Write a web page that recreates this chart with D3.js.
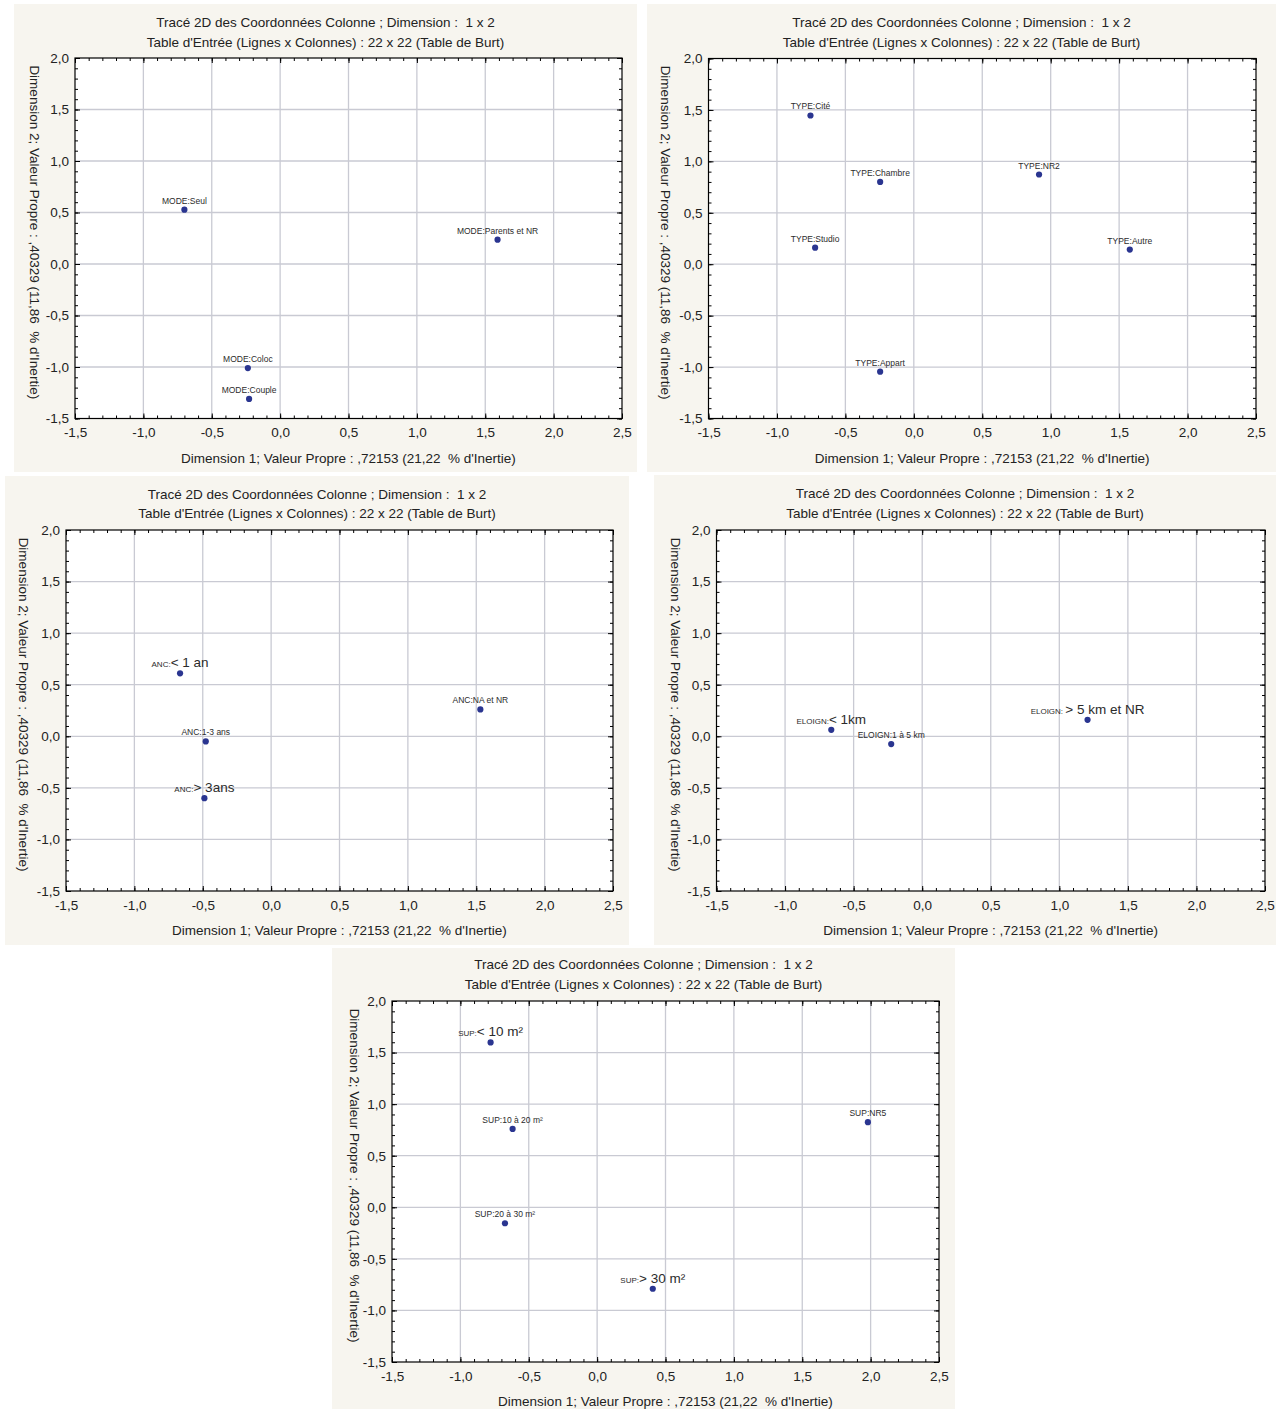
<!DOCTYPE html>
<html><head><meta charset="utf-8">
<script src="https://cdn.jsdelivr.net/npm/d3@7"></script>
<style>
body{margin:0;background:#fff}
svg{display:block}
text{font-family:"Liberation Sans",Arial,sans-serif}
</style>
</head><body>
<svg id="c" width="1276" height="1409"></svg>
<script>
// ---------- data ----------
const xTicks = [-1.5, -1.0, -0.5, 0.0, 0.5, 1.0, 1.5, 2.0, 2.5];
const yTicks = [-1.5, -1.0, -0.5, 0.0, 0.5, 1.0, 1.5, 2.0];
const titleLine1 = "Tracé 2D des Coordonnées Colonne ; Dimension :  1 x 2";
const titleLine2 = "Table d'Entrée (Lignes x Colonnes) : 22 x 22 (Table de Burt)";
const xAxisTitle = "Dimension 1; Valeur Propre : ,72153 (21,22  % d'Inertie)";
const yAxisTitle = "Dimension 2; Valeur Propre : ,40329 (11,86  % d'Inertie)";

const modeSmall = ["MODE:Seul", "MODE:Parents et NR", "MODE:Coloc", "MODE:Couple"];
const modeBig   = ["", "", "", ""];
const modeDim1  = [-0.70, 1.59, -0.236, -0.227];
const modeDim2  = [0.527, 0.236, -1.01, -1.31];

const typeSmall = ["TYPE:Cité", "TYPE:Chambre", "TYPE:NR2", "TYPE:Studio", "TYPE:Autre", "TYPE:Appart"];
const typeBig   = ["", "", "", "", "", ""];
const typeDim1  = [-0.755, -0.246, 0.915, -0.721, 1.578, -0.246];
const typeDim2  = [1.446, 0.80, 0.872, 0.161, 0.142, -1.045];

const ancSmall = ["ANC:", "ANC:NA et NR", "ANC:1-3 ans", "ANC:"];
const ancBig   = ["< 1 an", "", "", "> 3ans"];
const ancDim1  = [-0.666, 1.53, -0.478, -0.488];
const ancDim2  = [0.61, 0.26, -0.05, -0.60];

const eloSmall = ["ELOIGN:", "ELOIGN:1 à 5 km", "ELOIGN: "];
const eloBig   = ["< 1km", "", "> 5 km et NR"];
const eloDim1  = [-0.663, -0.226, 1.206];
const eloDim2  = [0.063, -0.076, 0.16];

const supSmall = ["SUP:", "SUP:10 à 20 m²", "SUP:NR5", "SUP:20 à 30 m²", "SUP:"];
const supBig   = ["< 10 m²", "", "", "", "> 30 m²"];
const supDim1  = [-0.779, -0.618, 1.98, -0.674, 0.407];
const supDim2  = [1.598, 0.76, 0.825, -0.155, -0.79];

// ---------- layout ----------
const panels = [
  {small: modeSmall, big: modeBig, d1: modeDim1, d2: modeDim2,
   bg: [14, 4, 637, 472], plot: [75, 58, 622, 418.5], t1: 22, t2: 42, xt: 458, yt: 35},
  {small: typeSmall, big: typeBig, d1: typeDim1, d2: typeDim2,
   bg: [647, 4, 1276, 472], plot: [708.5, 58.5, 1256, 418.5], t1: 22, t2: 42, xt: 458, yt: 666},
  {small: ancSmall, big: ancBig, d1: ancDim1, d2: ancDim2,
   bg: [5, 476, 629, 945], plot: [66, 530, 613, 891], t1: 494, t2: 513, xt: 930, yt: 24},
  {small: eloSmall, big: eloBig, d1: eloDim1, d2: eloDim2,
   bg: [654, 475, 1276, 945], plot: [716.5, 530, 1265, 891], t1: 493, t2: 513, xt: 930, yt: 676},
  {small: supSmall, big: supBig, d1: supDim1, d2: supDim2,
   bg: [332, 948, 955, 1409], plot: [392, 1001, 939, 1362], t1: 964, t2: 984, xt: 1401, yt: 355}
];

const svg = d3.select("#c");
const fmt = d => d3.format(".1f")(d).replace(".", ",").replace("\u2212", "-");
const minorX = d3.range(-15, 26).map(i => i / 10);
const minorY = d3.range(-15, 21).map(i => i / 10);

panels.forEach(p => {
  const g = svg.append("g");
  const [bx0, by0, bx1, by1] = p.bg;
  const [px0, py0, px1, py1] = p.plot;
  g.append("rect").attr("x", bx0).attr("y", by0).attr("width", bx1 - bx0).attr("height", by1 - by0)
    .attr("fill", "#f7f5ef");

  const x = d3.scaleLinear().domain([-1.5, 2.5]).range([px0, px1]);
  const y = d3.scaleLinear().domain([-1.5, 2.0]).range([py1, py0]);

  g.append("rect").attr("x", px0).attr("y", py0).attr("width", px1 - px0).attr("height", py1 - py0)
    .attr("fill", "#fff");

  // grid
  g.append("g").selectAll("line").data(xTicks.slice(1, -1)).join("line")
    .attr("x1", d => x(d)).attr("x2", d => x(d)).attr("y1", py0).attr("y2", py1)
    .attr("stroke", "#c9cad3").attr("stroke-width", 1.3);
  g.append("g").selectAll("line").data(yTicks.slice(1, -1)).join("line")
    .attr("y1", d => y(d)).attr("y2", d => y(d)).attr("x1", px0).attr("x2", px1)
    .attr("stroke", "#c9cad3").attr("stroke-width", 1.3);

  // axes
  const styleAxis = sel => {
    sel.select(".domain").remove();
    sel.selectAll("line").attr("stroke", "#000");
    sel.selectAll("text").attr("fill", "#222").style("font-size", "13.5px")
      .style("font-family", '"Liberation Sans",Arial,sans-serif');
  };
  g.append("g").attr("transform", `translate(0,${py1})`)
    .call(d3.axisBottom(x).tickValues(xTicks).tickSize(-5).tickSizeOuter(0).tickPadding(9).tickFormat(fmt)).call(styleAxis);
  g.append("g").attr("transform", `translate(0,${py1})`)
    .call(d3.axisBottom(x).tickValues(minorX).tickSize(-3).tickSizeOuter(0).tickFormat("")).call(styleAxis);
  g.append("g").attr("transform", `translate(0,${py0})`)
    .call(d3.axisTop(x).tickValues(xTicks).tickSize(-5).tickSizeOuter(0).tickFormat("")).call(styleAxis);
  g.append("g").attr("transform", `translate(0,${py0})`)
    .call(d3.axisTop(x).tickValues(minorX).tickSize(-3).tickSizeOuter(0).tickFormat("")).call(styleAxis);
  g.append("g").attr("transform", `translate(${px0},0)`)
    .call(d3.axisLeft(y).tickValues(yTicks).tickSize(-5).tickSizeOuter(0).tickPadding(6).tickFormat(fmt)).call(styleAxis);
  g.append("g").attr("transform", `translate(${px0},0)`)
    .call(d3.axisLeft(y).tickValues(minorY).tickSize(-3).tickSizeOuter(0).tickFormat("")).call(styleAxis);
  g.append("g").attr("transform", `translate(${px1},0)`)
    .call(d3.axisRight(y).tickValues(yTicks).tickSize(-5).tickSizeOuter(0).tickFormat("")).call(styleAxis);
  g.append("g").attr("transform", `translate(${px1},0)`)
    .call(d3.axisRight(y).tickValues(minorY).tickSize(-3).tickSizeOuter(0).tickFormat("")).call(styleAxis);

  // frame
  g.append("rect").attr("x", px0).attr("y", py0).attr("width", px1 - px0).attr("height", py1 - py0)
    .attr("fill", "none").attr("stroke", "#000").attr("stroke-width", 1.2);

  // titles
  const cxBg = (bx0 + bx1) / 2;
  const fs = "13.5px";
  g.append("text").attr("x", cxBg).attr("y", p.t1 + 5).attr("text-anchor", "middle")
    .style("font-size", fs).style("white-space", "pre").attr("fill", "#222").text(titleLine1);
  g.append("text").attr("x", cxBg).attr("y", p.t2 + 5).attr("text-anchor", "middle")
    .style("font-size", fs).style("white-space", "pre").attr("fill", "#222").text(titleLine2);
  g.append("text").attr("x", (px0 + px1) / 2).attr("y", p.xt + 5).attr("text-anchor", "middle")
    .style("font-size", fs).style("white-space", "pre").attr("fill", "#222").text(xAxisTitle);
  g.append("text").attr("transform", `translate(${p.yt - 5},${(py0 + py1) / 2 - 6}) rotate(90)`)
    .attr("text-anchor", "middle")
    .style("font-size", fs).style("white-space", "pre").attr("fill", "#222").text(yAxisTitle);

  // points
  const idx = d3.range(p.small.length);
  g.append("g").selectAll("circle").data(idx).join("circle")
    .attr("cx", i => x(p.d1[i])).attr("cy", i => y(p.d2[i])).attr("r", 3.1)
    .attr("fill", "#2a3590");

  // labels
  const lab = g.append("g").selectAll("text").data(idx).join("text")
    .attr("x", i => x(p.d1[i])).attr("y", i => y(p.d2[i]) - 6)
    .attr("text-anchor", "middle").attr("fill", "#2b2b2b");
  lab.append("tspan").style("font-size", i => p.big[i] ? "8px" : "8.5px").text(i => p.small[i]);
  lab.filter(i => p.big[i]).append("tspan").style("font-size", "13.5px").text(i => p.big[i]);
});
</script>
</body></html>
